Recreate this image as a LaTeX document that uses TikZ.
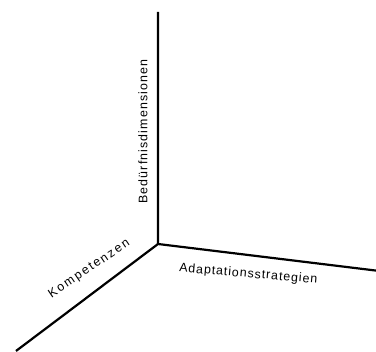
\documentclass[tikz,border=0pt]{standalone}
\usepackage{fontspec}
\setmainfont{Liberation Sans}
\newfontfamily\lsA[LetterSpace=9]{Liberation Sans}
\newfontfamily\lsB[LetterSpace=15]{Liberation Sans}
\newfontfamily\lsC[LetterSpace=7.5]{Liberation Sans}
\begin{document}
\begin{tikzpicture}[x=1pt,y=-1pt,
  axis/.style={line width=2.2pt,line cap=butt},
  lbl/.style={font=\fontsize{12.4}{14}\selectfont,inner sep=0pt}]
\useasboundingbox (0,0) rectangle (376,352);
\coordinate (O) at (158,244);
\coordinate (T) at (158,12);
\coordinate (R) at (377,270.7);
\coordinate (L) at (16,351);
\draw[axis] (T) -- (O) -- (R);
\draw[axis] (O) -- (L);
\node[lbl,rotate=90] (bd) at (143,131.7) {\lsA Bedürfnisdimensionen};
\node[lbl,rotate=34] (ko) at (89.3,269) {\lsB Kompetenzen};
\node[lbl,rotate=-4.8] (ad) at (248.3,274.3) {\lsC Adaptationsstrategien};
\end{tikzpicture}
\end{document}
